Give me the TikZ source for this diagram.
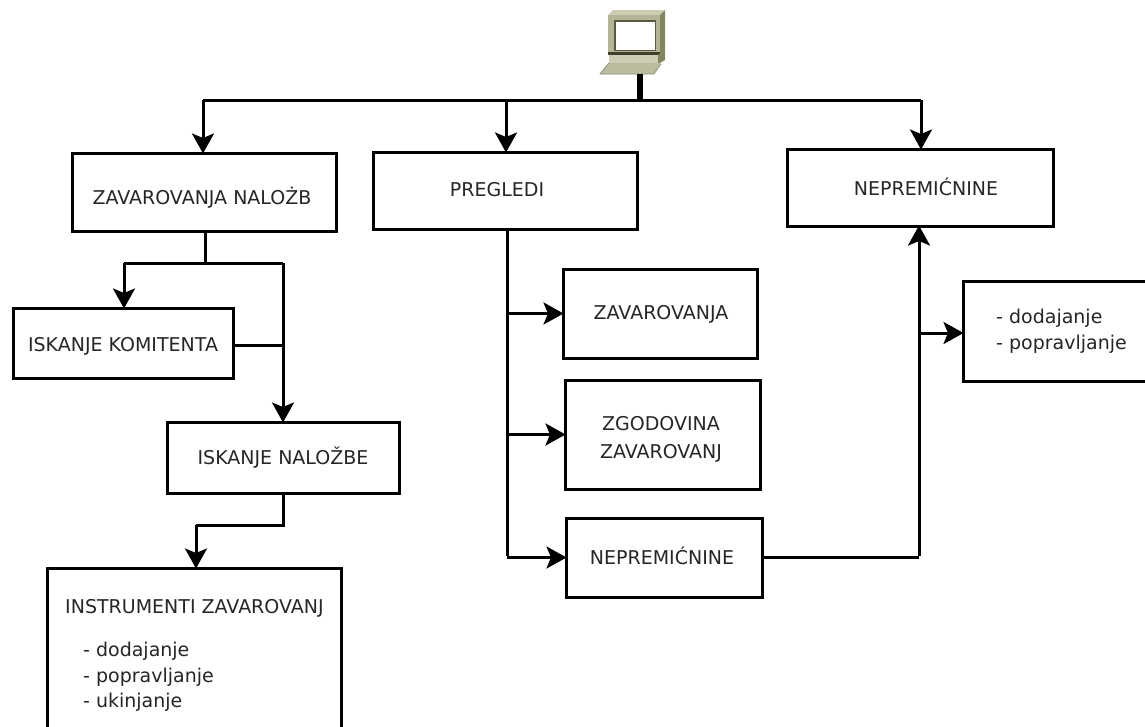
\documentclass[tikz,border=0pt]{standalone}
\usepackage{fontspec}
\setmainfont{DejaVu Sans}
\usetikzlibrary{arrows.meta,calc}
\tikzset{
  x=1pt,y=-1pt,
  box/.style={draw=black,fill=white,line width=3pt,inner sep=0pt},
  label/.style={inner sep=0pt,align=center,font=\fontsize{19}{28}\selectfont,text=black!85},
  plain/.style={inner sep=0pt,align=left,font=\fontsize{19}{25.6}\selectfont,text=black!85,anchor=west},
  wire/.style={line width=3pt,line cap=butt,line join=miter},
  arr/.style={wire,-{Stealth[inset=4.5pt,length=20pt,width=22pt]},shorten >=-2pt}
}
\definecolor{pcA}{HTML}{CDCDB4}
\definecolor{pcB}{HTML}{84845F}
\definecolor{pcC}{HTML}{B4B496}
\definecolor{pcD}{HTML}{5A5A42}
\newcommand{\pxbox}[5]{\node[box,minimum width=#4,minimum height=#5] (#1) at (#2,#3) {};}
\begin{document}
\begin{tikzpicture}
\useasboundingbox (0,0) rectangle (1145,726);
\clip (0,0) rectangle (1145,726);
% computer
\fill[pcA] (608,15) -- (613,10) -- (665,10) -- (660,15) -- cycle;
\fill[pcB] (660,15) -- (665,10) -- (665,50) -- (660,54) -- cycle;
\fill[pcC] (608,15) rectangle (660,52);
\fill[pcD] (614,20) rectangle (656,51);
\fill[white] (615.5,21.5) rectangle (654.5,49.5);
\fill[pcD!70!black] (608,52) rectangle (660,55);
\fill[pcA] (609,55) rectangle (658,63);
\fill[pcB] (658,55) -- (665,50) -- (665,60) -- (658,64) -- cycle;
\fill[pcC!70!pcA] (609,63) -- (661,63) -- (654,74) -- (600,74) -- cycle;
\draw[pcD!70,line width=.7pt] (609,63) -- (600,74) -- (654,74) -- (661,64);
\coordinate (pc) at (640,74);
\coordinate (bus) at (640,100);
\coordinate (busL) at (203,100);
\coordinate (busM) at (506,100);
\coordinate (busR) at (921,100);
% boxes
\pxbox{zn}{204}{192}{264}{78}
\pxbox{pr}{505}{190.5}{264}{77}
\pxbox{nt}{920}{187.5}{266}{77}
\pxbox{ik}{123}{343}{220}{70}
\pxbox{in}{283}{457.5}{232}{71}
\pxbox{iz}{194}{680}{294}{224}
\pxbox{za}{660}{313.5}{194}{89}
\pxbox{zg}{662.5}{434.5}{195}{109}
\pxbox{ne}{664}{557.5}{196}{79}
\pxbox{dp}{1057}{331}{188}{100}
% labels
\node[label] (znt) at (202,198) {ZAVAROVANJA NALOŻB};
\node[label] (prt) at (497,190) {PREGLEDI};
\node[label] (ntt) at (926,186.5) {NEPREMIĆNINE};
\node[label] (ikt) at (123,346) {ISKANJE KOMITENTA};
\node[label] (intt) at (283,458) {ISKANJE NALOŽBE};
\node[label] (zat) at (661,314) {ZAVAROVANJA};
\node[label] (zgt) at (661,439) {ZGODOVINA\\ZAVAROVANJ};
\node[label] (net) at (662,556) {NEPREMIĆNINE};
\node[plain] (izt) at (65,608) {INSTRUMENTI ZAVAROVANJ};
\node[plain] (izl) at (83,677) {- dodajanje\\- popravljanje\\- ukinjanje};
\node[plain] (dpl) at (996,331) {- dodajanje\\- popravljanje};
% connectors
\draw[line width=6pt] (pc) -- (bus);
\draw[wire] (busL) -- (busR);
\draw[arr] (busL) -- (busL |- zn.north);
\draw[arr] (busM) -- (busM |- pr.north);
\draw[arr] (busR) -- (busR |- nt.north);
\coordinate (j1) at (205,263);
\coordinate (j1L) at (124,263);
\coordinate (j1R) at (283,263);
\draw[wire] (j1 |- zn.south) -- (j1);
\draw[wire] (j1R) -- (j1L);
\draw[arr] (j1L) -- (j1L |- ik.north);
\draw[arr] (j1R) -- (j1R |- in.north);
\draw[wire] (ik.east |- 0,345) -- (283,345);
\coordinate (j2) at (283,525);
\coordinate (j2L) at (196,525);
\draw[wire] (j2 |- in.south) -- (j2) -- (j2L);
\draw[arr] (j2L) -- (j2L |- iz.north);
\coordinate (t) at (507,557.5);
\draw[wire] (t |- pr.south) -- ([yshift=1.5pt]t);
\draw[arr] (t |- za.west) -- (za.west);
\draw[arr] (t |- zg.west) -- (zg.west);
\draw[arr] (t) -- (ne.west);
\coordinate (r) at (919,557.5);
\draw[wire] (ne.east) -- (r);
\draw[arr] ([yshift=1.5pt]r) -- (r |- nt.south);
\draw[arr] (r |- 0,333) -- (dp.west |- 0,333);
\end{tikzpicture}
\end{document}
